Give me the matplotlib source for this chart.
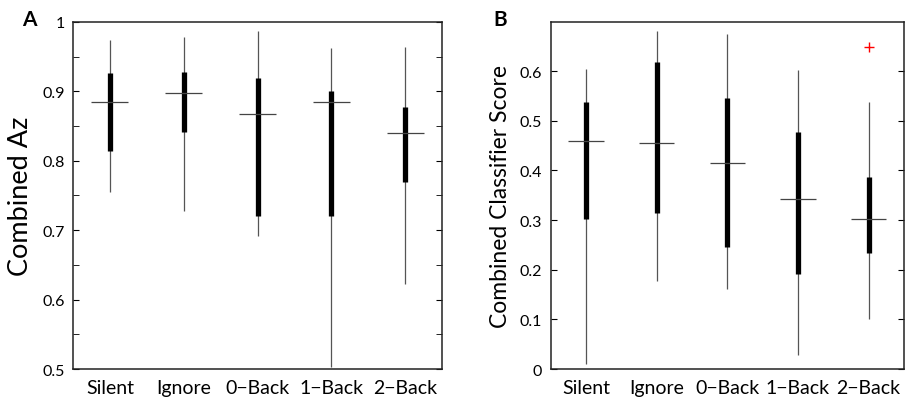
import numpy as np
import matplotlib.pyplot as plt
from matplotlib.ticker import MultipleLocator

plt.rcParams['font.family'] = ['Lato', 'DejaVu Sans']

conditions = ['Silent', 'Ignore', '0\u2212Back', '1\u2212Back', '2\u2212Back']

# panel A: combined Az
az_whisk_hi = [0.974, 0.979, 0.987, 0.963, 0.964]
az_q3 = [0.926, 0.928, 0.920, 0.900, 0.877]
az_med = [0.885, 0.898, 0.868, 0.885, 0.840]
az_q1 = [0.814, 0.842, 0.720, 0.720, 0.770]
az_whisk_lo = [0.755, 0.727, 0.692, 0.503, 0.622]

# panel B: combined classifier score
cs_whisk_hi = [0.604, 0.681, 0.675, 0.603, 0.537]
cs_q3 = [0.537, 0.618, 0.545, 0.477, 0.387]
cs_med = [0.459, 0.455, 0.414, 0.342, 0.302]
cs_q1 = [0.302, 0.315, 0.246, 0.192, 0.233]
cs_whisk_lo = [0.010, 0.178, 0.161, 0.028, 0.100]
cs_outlier_x = [5]
cs_outlier_y = [0.649]


def compact_box(ax, lo, q1, med, q3, hi):
    pos = np.arange(1, len(med) + 1)
    ax.vlines(pos, lo, hi, color='#555555', lw=0.9, zorder=2)
    ax.vlines(pos, q1, q3, color='black', lw=3.8, zorder=3)
    ax.hlines(med, pos - 0.25, pos + 0.25, color='#444444', lw=0.9, zorder=4)
    ax.set_xlim(0.5, len(med) + 0.5)
    ax.set_xticks(pos)
    ax.set_xticklabels(conditions, fontsize=14)
    ax.tick_params(axis='x', length=0, pad=7)
    ax.tick_params(axis='y', which='both', direction='in', right=True,
                   labelsize=11.5, pad=6, length=4)
    for s in ax.spines.values():
        s.set_linewidth(1.1)
        s.set_color('#222222')


fig = plt.figure(figsize=(9.06, 4.02), dpi=100)
axA = fig.add_axes([0.0806, 0.0796, 0.4073, 0.8632])
axB = fig.add_axes([0.6078, 0.0796, 0.3900, 0.8632])

compact_box(axA, az_whisk_lo, az_q1, az_med, az_q3, az_whisk_hi)
axA.set_ylim(0.5, 1.0)
axA.set_yticks([0.5, 0.6, 0.7, 0.8, 0.9, 1.0])
axA.set_yticklabels(['0.5', '0.6', '0.7', '0.8', '0.9', '1'])
axA.yaxis.set_minor_locator(MultipleLocator(0.05))
axA.set_ylabel('Combined Az', fontsize=19.5)
axA.yaxis.set_label_coords(-0.108, 0.5)

compact_box(axB, cs_whisk_lo, cs_q1, cs_med, cs_q3, cs_whisk_hi)
axB.plot(cs_outlier_x, cs_outlier_y, '+', color='red', ms=7, mew=1.0)
axB.set_ylim(0, 0.699)
axB.set_yticks([0, 0.1, 0.2, 0.3, 0.4, 0.5, 0.6])
axB.set_yticklabels(['0', '0.1', '0.2', '0.3', '0.4', '0.5', '0.6'])
axB.set_ylabel('Combined Classifier Score', fontsize=16.5)
axB.yaxis.set_label_coords(-0.112, 0.5)

fig.text(0.024, 0.95, 'A', fontsize=15, fontweight='bold', va='center')
fig.text(0.545, 0.95, 'B', fontsize=15, fontweight='bold', va='center')

fig.savefig('out.png', dpi=100)
